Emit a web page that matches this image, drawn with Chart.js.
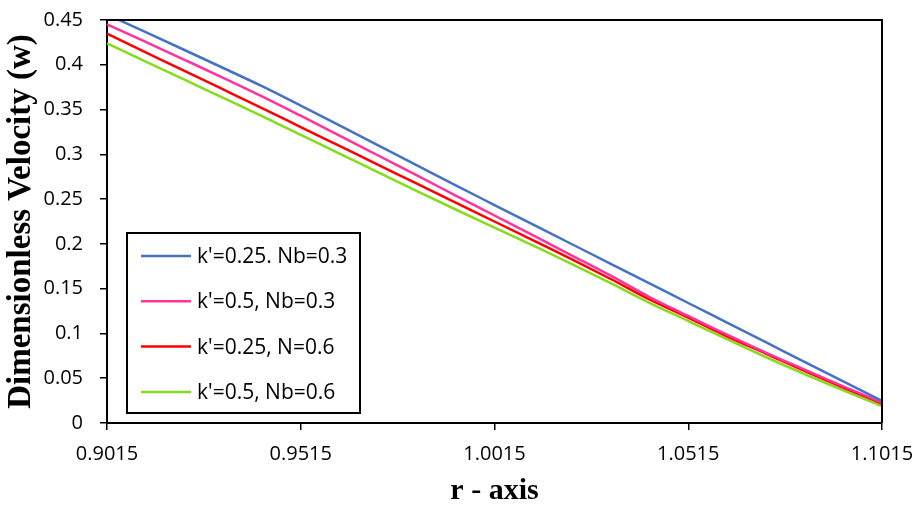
<!DOCTYPE html>
<html>
<head>
<meta charset="utf-8">
<script src="https://cdn.jsdelivr.net/npm/chart.js@4/dist/chart.umd.min.js"></script>
<style>
  html, body { margin: 0; padding: 0; background: #fff; }
  #wrap { width: 920px; height: 509px; }
</style>
</head>
<body>
<div id="wrap"><canvas id="velocityChart"></canvas></div>
<script>
// r positions of the sampled points
var rValues = [0.9015, 0.9115, 0.9215, 0.9315, 0.9415, 0.9515, 0.9615, 0.9715, 0.9815, 0.9915,
               1.0015, 1.0115, 1.0215, 1.0315, 1.0415, 1.0515, 1.0615, 1.0715, 1.0815, 1.0915, 1.1015];

// velocity profiles
var wK025Nb03 = [0.456, 0.4364, 0.4165, 0.3964, 0.3761, 0.3544, 0.3323, 0.3100, 0.2876, 0.2653,
                 0.2434, 0.2215, 0.1996, 0.1778, 0.1559, 0.1340, 0.1121, 0.0902, 0.0683, 0.0464, 0.0246];
var wK05Nb03  = [0.4452, 0.4255, 0.4056, 0.3855, 0.3648, 0.3431, 0.3210, 0.2987, 0.2764, 0.2540,
                 0.2317, 0.2094, 0.1870, 0.1645, 0.1407, 0.1195, 0.0986, 0.0787, 0.0597, 0.0410, 0.0227];
var wK025N06  = [0.4347, 0.4139, 0.3931, 0.3724, 0.3516, 0.3305, 0.3094, 0.2883, 0.2672, 0.2461,
                 0.2250, 0.2039, 0.1828, 0.1608, 0.1379, 0.1176, 0.0968, 0.0776, 0.0581, 0.0396, 0.0218];
var wK05Nb06  = [0.4240, 0.4036, 0.3833, 0.3630, 0.3427, 0.3218, 0.3008, 0.2799, 0.2589, 0.2384,
                 0.2182, 0.1980, 0.1775, 0.1561, 0.1342, 0.1139, 0.0936, 0.0737, 0.0547, 0.0366, 0.0190];

var seriesLabels = ["k'=0.25. Nb=0.3", "k'=0.5, Nb=0.3", "k'=0.25, N=0.6", "k'=0.5, Nb=0.6"];
var seriesColors = ['#4472C4', '#FF3399', '#FF0000', '#84DC1C'];

var xTicks = [0.9015, 0.9515, 1.0015, 1.0515, 1.1015];
var yTicks = [0, 0.05, 0.1, 0.15, 0.2, 0.25, 0.3, 0.35, 0.4, 0.45];

function toPoints(values) {
    return rValues.map(function (r, i) { return { x: r, y: values[i] }; });
}

var allSeries = [wK025Nb03, wK05Nb03, wK025N06, wK05Nb06];
var datasets = allSeries.map(function (vals, i) {
    return {
        label: seriesLabels[i],
        data: toPoints(vals),
        borderColor: seriesColors[i],
        backgroundColor: seriesColors[i],
        borderWidth: 2.5,
        pointRadius: 0,
        fill: false,
        cubicInterpolationMode: 'monotone'
    };
});

// black frame on the top and right of the plot area
var frameLines = {
    id: 'frameLines',
    afterDatasetsDraw: function (chart) {
        var a = chart.chartArea, ctx = chart.ctx;
        ctx.save();
        ctx.strokeStyle = '#000';
        ctx.lineWidth = 2;
        ctx.beginPath();
        ctx.moveTo(a.left, a.top);
        ctx.lineTo(a.right, a.top);
        ctx.lineTo(a.right, a.bottom);
        ctx.stroke();
        ctx.restore();
    }
};

// boxed legend inside the plot, lower left
var boxLegend = {
    id: 'boxLegend',
    afterDraw: function (chart) {
        var a = chart.chartArea, ctx = chart.ctx;
        var left = a.left + 20, top = a.top + 213, w = 233, h = 180;
        ctx.save();
        ctx.fillStyle = '#fff';
        ctx.fillRect(left, top, w, h);
        ctx.strokeStyle = '#000';
        ctx.lineWidth = 2;
        ctx.strokeRect(left, top, w, h);
        ctx.font = '21px "Open Sans"';
        ctx.textBaseline = 'middle';
        chart.data.datasets.forEach(function (ds, i) {
            var y = top + 23 + i * 45.3;
            ctx.strokeStyle = ds.borderColor;
            ctx.lineWidth = 2.5;
            ctx.beginPath();
            ctx.moveTo(left + 14, y);
            ctx.lineTo(left + 64, y);
            ctx.stroke();
            ctx.fillStyle = '#000';
            ctx.fillText(ds.label, left + 70, y + 1);
        });
        ctx.restore();
    }
};

var ctxVel = document.getElementById('velocityChart').getContext('2d');
var velocityChart = new Chart(ctxVel, {
    type: 'line',
    data: { datasets: datasets },
    plugins: [frameLines, boxLegend],
    options: {
        responsive: true,
        maintainAspectRatio: false,
        animation: false,
        layout: { padding: { top: 20, right: 38, left: 0, bottom: 0 } },
        plugins: {
            legend: { display: false },
            tooltip: { enabled: false }
        },
        scales: {
            x: {
                type: 'linear',
                min: 0.9015,
                max: 1.1015,
                afterBuildTicks: function (scale) {
                    scale.ticks = xTicks.map(function (v) { return { value: v }; });
                },
                afterFit: function (scale) {
                    scale.height = 86;
                    scale.paddingLeft = 0;
                    scale.paddingRight = 0;
                },
                border: { color: '#000', width: 2 },
                grid: { drawOnChartArea: false, drawTicks: true, tickLength: 7, color: '#000', lineWidth: 1.5 },
                ticks: {
                    color: '#000',
                    font: { family: 'Open Sans', size: 20 },
                    padding: 12,
                    maxRotation: 0,
                    autoSkip: false,
                    callback: function (v) { return v.toFixed(4); }
                },
                title: {
                    display: true,
                    text: 'r - axis',
                    color: '#000',
                    font: { family: 'Liberation Serif', size: 30, weight: 'bold' },
                    padding: { top: 0, bottom: 0 }
                }
            },
            y: {
                min: 0,
                max: 0.45,
                afterBuildTicks: function (scale) {
                    scale.ticks = yTicks.map(function (v) { return { value: v }; });
                },
                afterFit: function (scale) {
                    scale.width = 107;
                    scale.paddingTop = 0;
                    scale.paddingBottom = 0;
                },
                border: { color: '#000', width: 2 },
                grid: { drawOnChartArea: false, drawTicks: true, tickLength: 7, color: '#000', lineWidth: 1.5 },
                ticks: {
                    color: '#000',
                    font: { family: 'Open Sans', size: 20 },
                    padding: 17,
                    autoSkip: false,
                    callback: function (v) { return String(+v.toFixed(2)); }
                },
                title: {
                    display: true,
                    text: 'Dimensionless Velocity (w)',
                    color: '#000',
                    font: { family: 'Liberation Serif', size: 33, weight: 'bold' },
                    padding: { top: 2, bottom: 0 }
                }
            }
        }
    }
});
</script>
</body>
</html>
